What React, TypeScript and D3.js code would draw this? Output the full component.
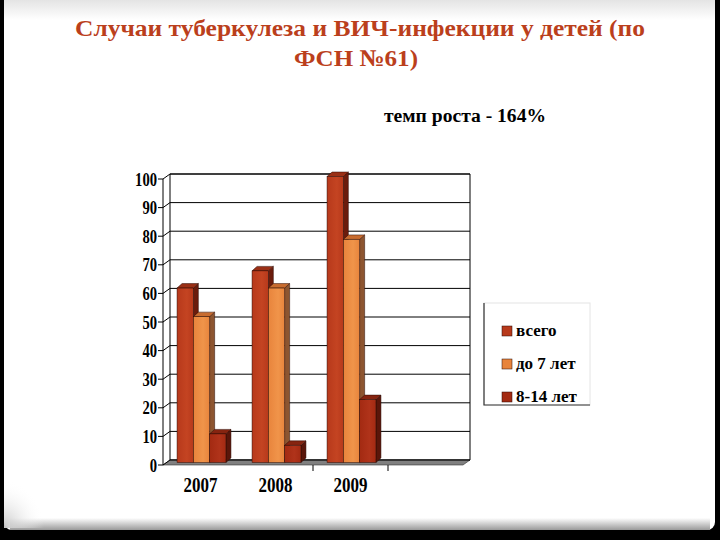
import React from "react";
import * as d3 from "d3";

// data
const categories = ["2007", "2008", "2009", ""];
const seriesNames = ["всего", "до 7 лет", "8-14 лет"];
const totalCases = [61, 67, 100];
const under7Cases = [51, 61, 78];
const age8to14Cases = [10, 6, 22];
const yTicks = [0, 10, 20, 30, 40, 50, 60, 70, 80, 90, 100];

const titleLines = ["Случаи туберкулеза и ВИЧ-инфекции у детей (по", "ФСН №61)"];
const subtitle = "темп роста - 164%";

const W = 720;
const H = 540;
const DX = 7; // wall depth
const DY = -5;
const BDX = 5; // bar depth
const BDY = -4.5;
const serif = "'Liberation Serif', 'Times New Roman', serif";

const faces = [
  { front: "#b7391b", light: "#c44422", side: "#6b1c0c", top: "#9a2f15" },
  { front: "#e8843c", light: "#f0944a", side: "#8d5530", top: "#c86c30" },
  { front: "#a32a12", light: "#b0331a", side: "#5a160a", top: "#862410" },
];

const App: React.FC = () => {
  const values = [totalCases, under7Cases, age8to14Cases];

  const x = d3.scaleBand<string>().domain(categories).range([163, 463]);
  const xs = d3
    .scaleBand<string>()
    .domain(seriesNames)
    .range([0, x.bandwidth()])
    .paddingInner(0)
    .paddingOuter(0.8);
  const y = d3.scaleLinear().domain([0, 100]).range([465, 179]);

  const x0 = x.range()[0];
  const x1 = x.range()[1];
  const y0 = y(0);
  const y100 = y(100);

  const bars: React.ReactNode[] = [];
  categories.forEach((cat, ci) => {
    seriesNames.forEach((s, si) => {
      const v = values[si][ci];
      if (v === undefined) return;
      const left = x(cat)! + xs(s)! + 1;
      const right = left + xs.bandwidth();
      const top = y(v) - 2.5;
      const bottom = y(0) - 2.5;
      const f = faces[si];
      bars.push(
        <g key={cat + s}>
          <polygon
            points={`${right},${top} ${right + BDX},${top + BDY} ${right + BDX},${bottom + BDY} ${right},${bottom}`}
            fill={f.side}
            stroke="#2a0a04"
            strokeWidth={0.5}
          />
          <polygon
            points={`${left},${top} ${left + BDX},${top + BDY} ${right + BDX},${top + BDY} ${right},${top}`}
            fill={f.top}
            stroke="#2a0a04"
            strokeWidth={0.5}
          />
          <rect
            x={left}
            y={top}
            width={right - left}
            height={bottom - top}
            fill={`url(#grad${si})`}
            stroke="#2a0a04"
            strokeWidth={0.5}
          />
        </g>
      );
    });
  });

  return (
    <svg
      width={W}
      height={H}
      style={{ position: "fixed", left: 0, top: 0 }}
      fontFamily={serif}
    >
      <defs>
        {faces.map((f, i) => (
          <linearGradient key={i} id={`grad${i}`} x1="0" x2="1" y1="0" y2="0">
            <stop offset="0" stopColor={f.front} />
            <stop offset="0.6" stopColor={f.light} />
            <stop offset="1" stopColor={f.front} />
          </linearGradient>
        ))}
        <linearGradient id="topShade" x1="0" x2="0" y1="0" y2="1">
          <stop offset="0" stopColor="#e4e4e4" />
          <stop offset="1" stopColor="#ffffff" />
        </linearGradient>
        <linearGradient id="bottomShade" x1="0" x2="0" y1="0" y2="1">
          <stop offset="0" stopColor="#ffffff" />
          <stop offset="1" stopColor="#9a9a9a" />
        </linearGradient>
        <radialGradient id="cornerShade" cx="0" cy="1" r="1">
          <stop offset="0" stopColor="#c8c8c8" />
          <stop offset="1" stopColor="#ffffff" stopOpacity={0} />
        </radialGradient>
      </defs>

      {/* slide */}
      <rect width={W} height={H} fill="#000" />
      <rect x={4} y={-10} width={711} height={540} rx={8} fill="#fff" />
      <rect x={4} y={0} width={711} height={20} fill="url(#topShade)" />
      <rect x={10} y={518} width={700} height={12} fill="url(#bottomShade)" />
      <rect x={4} y={480} width={40} height={48} fill="url(#cornerShade)" />

      {/* title */}
      {titleLines.map((t, i) => (
        <text
          key={i}
          x={i === 0 ? 360 : 356}
          y={i === 0 ? 36 : 66}
          textAnchor="middle"
          fontSize={24}
          fontWeight="bold"
          fill="#bb3f1c"
          textLength={i === 0 ? 570 : 124}
          lengthAdjust="spacingAndGlyphs"
        >
          {t}
        </text>
      ))}
      <text
        x={465}
        y={122}
        textAnchor="middle"
        fontSize={18}
        fontWeight="bold"
        fill="#000"
        textLength={162}
        lengthAdjust="spacingAndGlyphs"
      >
        {subtitle}
      </text>

      {/* walls and floor */}
      <polygon
        points={`${x0 + DX},${y100 + DY} ${x1 + DX},${y100 + DY} ${x1 + DX},${y0 + DY} ${x0 + DX},${y0 + DY}`}
        fill="#fff"
        stroke="#000"
        strokeWidth={1}
      />
      <polygon
        points={`${x0},${y0} ${x1},${y0} ${x1 + DX},${y0 + DY} ${x0 + DX},${y0 + DY}`}
        fill="#808080"
        stroke="#333"
        strokeWidth={0.6}
      />
      {yTicks.map((t) => (
        <g key={t}>
          <line x1={x0 + DX} x2={x1 + DX} y1={y(t) + DY} y2={y(t) + DY} stroke="#000" />
          <line x1={x0} x2={x0 + DX} y1={y(t)} y2={y(t) + DY} stroke="#000" />
          <line x1={x0 - 5} x2={x0} y1={y(t)} y2={y(t)} stroke="#000" />
          <text
            x={157}
            y={y(t) + 6.5}
            textAnchor="end"
            fontSize={18}
            fontWeight="bold"
            fill="#000"
            textLength={String(t).length * 7.3}
            lengthAdjust="spacingAndGlyphs"
          >
            {t}
          </text>
        </g>
      ))}
      <line x1={x0} x2={x0} y1={y0} y2={y100} stroke="#000" />

      {/* x ticks and labels */}
      {categories.slice(2).map((c) => (
        <line key={c} x1={x(c)!} x2={x(c)!} y1={y0} y2={y0 + 6} stroke="#000" />
      ))}
      {categories.map((c) => (
        <text
          key={c}
          x={x(c)! + x.bandwidth() / 2}
          y={492}
          textAnchor="middle"
          fontSize={21}
          fontWeight="bold"
          fill="#000"
          textLength={c ? 34 : undefined}
          lengthAdjust="spacingAndGlyphs"
        >
          {c}
        </text>
      ))}

      {bars}

      {/* legend */}
      <rect x={484} y={303} width={106} height={102} fill="#fff" stroke="#e4e4e4" />
      <polyline points="484,303 484,405 590,405" fill="none" stroke="#333" strokeWidth={1.2} />
      {seriesNames.map((s, i) => (
        <g key={s} transform={`translate(502, ${336 + i * 33})`}>
          <rect x={0} y={-10} width={10} height={10} fill={faces[i].front} stroke="#2a0a04" strokeWidth={0.5} />
          <text x={14} y={0} fontSize={17} fontWeight="bold" fill="#000">
            {s}
          </text>
        </g>
      ))}
    </svg>
  );
};

export default App;
